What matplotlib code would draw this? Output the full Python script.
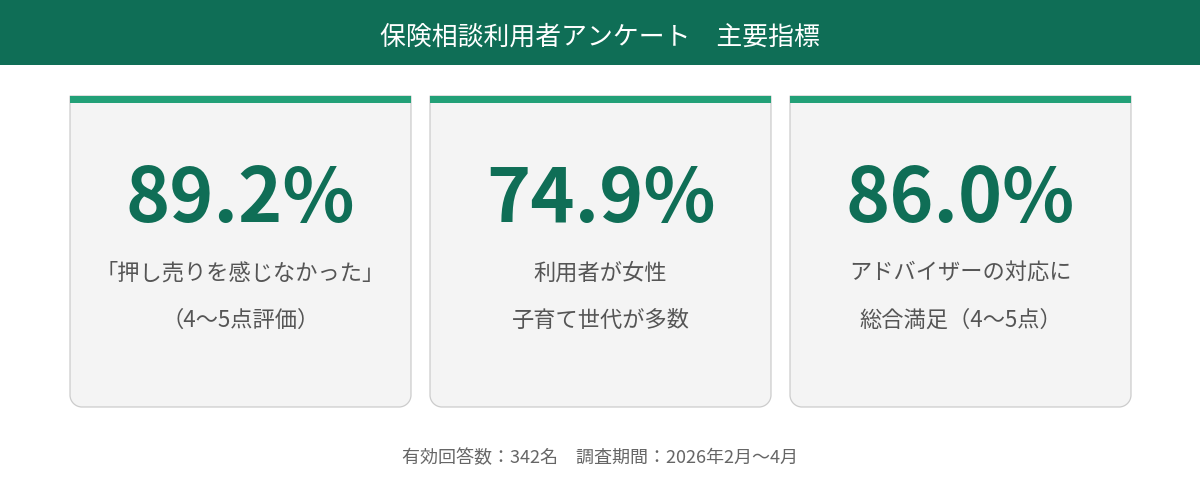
import matplotlib
matplotlib.use("Agg")
import matplotlib.pyplot as plt
from matplotlib.path import Path
from matplotlib.patches import PathPatch, Rectangle

plt.rcParams['font.family'] = ['Noto Sans CJK JP', 'DejaVu Sans']

title = "保険相談利用者アンケート　主要指標"
values = [89.2, 74.9, 86.0]
label_line1 = ["「押し売りを感じなかった」", "利用者が女性", "アドバイザーの対応に"]
label_line2 = ["（4〜5点評価）", "子育て世代が多数", "総合満足（4〜5点）"]
footer = "有効回答数：342名　調査期間：2026年2月〜4月"

DARK = "#0F6E56"
ACCENT = "#22A077"
CARD_BG = "#F4F4F4"
BORDER = "#CCCCCC"

fig = plt.figure(figsize=(12, 4.8), dpi=100)
ax = fig.add_axes([0, 0, 1, 1])
ax.set_xlim(0, 1200)
ax.set_ylim(480, 0)
ax.axis('off')

# header
ax.add_patch(Rectangle((0, 0), 1200, 65, facecolor=DARK, edgecolor='none'))
ax.text(600, 37, title, color='white', fontsize=18.6, ha='center', va='center')

def card_path(x0, y0, x1, y1, r):
    k = 0.5523 * r
    verts = [(x0, y0), (x1, y0), (x1, y1 - r),
             (x1, y1 - r + k), (x1 - r + k, y1), (x1 - r, y1),
             (x0 + r, y1),
             (x0 + r - k, y1), (x0, y1 - r + k), (x0, y1 - r),
             (x0, y0)]
    codes = [Path.MOVETO, Path.LINETO, Path.LINETO,
             Path.CURVE4, Path.CURVE4, Path.CURVE4,
             Path.LINETO,
             Path.CURVE4, Path.CURVE4, Path.CURVE4,
             Path.CLOSEPOLY]
    return Path(verts, codes)

card_x = [70, 430, 790]
card_w = 341
top, bottom = 96, 407
for i, v in enumerate(values):
    x0 = card_x[i]
    x1 = x0 + card_w
    ax.add_patch(PathPatch(card_path(x0, top, x1, bottom, 12), facecolor=CARD_BG,
                           edgecolor=BORDER, linewidth=0.9))
    ax.add_patch(Rectangle((x0, top), card_w, 7, facecolor=ACCENT, edgecolor='none'))
    cx = (x0 + x1) / 2
    ax.text(cx, 222, f"{v:.1f}%", color=DARK, fontsize=54, fontweight='bold',
            ha='center', va='baseline')
    ax.text(cx, 273, label_line1[i], color='#555555', fontsize=16, ha='center', va='center')
    ax.text(cx, 320, label_line2[i], color='#555555', fontsize=16, ha='center', va='center')

ax.text(600, 458, footer, color='#666666', fontsize=13, ha='center', va='center')

fig.savefig("out.png", dpi=100, facecolor='white')
